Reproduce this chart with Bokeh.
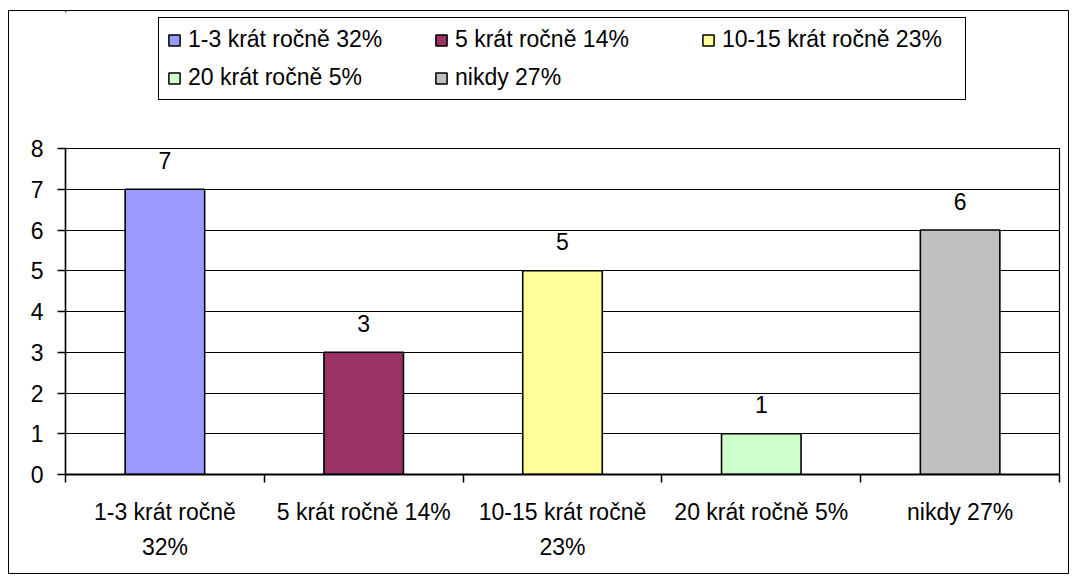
from bokeh.plotting import figure
from bokeh.layouts import column
from bokeh.models import ColumnDataSource, FixedTicker, Legend, LegendItem, Range1d
from bokeh.core.properties import value
from bokeh.embed import file_html
from bokeh.resources import INLINE

categories = ["1-3 krát ročně 32%", "5 krát ročně 14%", "10-15 krát ročně 23%",
              "20 krát ročně 5%", "nikdy 27%"]
tick_labels = ["1-3 krát ročně\n32%", "5 krát ročně 14%", "10-15 krát ročně\n23%",
               "20 krát ročně 5%", "nikdy 27%"]
counts = [7, 3, 5, 1, 6]
colors = ["#9999FF", "#993366", "#FFFF99", "#CCFFCC", "#C0C0C0"]
y_ticks = [0, 1, 2, 3, 4, 5, 6, 7, 8]

FONT = "Liberation Sans"
FS = "23px"

centers = [i + 0.5 for i in range(len(categories))]
src = ColumnDataSource(dict(x=centers, top=counts, color=colors, name=categories,
                            label=[str(c) for c in counts]))

# ---- main chart ----
p = figure(width=1059, height=445, output_backend="svg", toolbar_location=None,
           x_range=Range1d(0, len(categories)), y_range=Range1d(0, 8),
           min_border_left=56, min_border_right=9, min_border_top=20, min_border_bottom=99)
p.outline_line_color = "black"
p.outline_line_width = 1.2
p.background_fill_color = "white"
p.border_fill_color = "white"

r = p.vbar(x="x", top="top", width=0.4, bottom=0, source=src, fill_color="color",
           line_color="black", line_width=1.6)

p.text(x="x", y="top", text="label", source=src, text_align="center",
       text_baseline="alphabetic", y_offset=-29, text_font=value(FONT),
       text_font_size=FS, text_color="black")

p.xaxis.ticker = FixedTicker(ticks=centers, minor_ticks=list(range(len(categories) + 1)))
p.xaxis.major_label_overrides = {c: t for c, t in zip(centers, tick_labels)}
p.xaxis.major_tick_in = 0
p.xaxis.major_tick_out = 0
p.xaxis.minor_tick_in = 0
p.xaxis.minor_tick_out = 8
p.xaxis.minor_tick_line_color = "black"
p.xaxis.minor_tick_line_width = 1.5
p.xaxis.axis_line_color = "black"
p.xaxis.axis_line_width = 2
p.xaxis.major_label_standoff = 16
p.xaxis.major_label_text_font = FONT
p.xaxis.major_label_text_font_size = FS
p.xaxis.major_label_text_color = "black"
p.xaxis.major_label_text_line_height = 1.38

p.yaxis.ticker = FixedTicker(ticks=y_ticks, minor_ticks=[])
p.yaxis.major_tick_in = 0
p.yaxis.major_tick_out = 8
p.yaxis.major_tick_line_color = "black"
p.yaxis.major_tick_line_width = 1.5
p.yaxis.axis_line_color = "black"
p.yaxis.axis_line_width = 1.5
p.yaxis.major_label_standoff = 14
p.yaxis.major_label_text_font = FONT
p.yaxis.major_label_text_font_size = FS
p.yaxis.major_label_text_color = "black"

p.xgrid.visible = False
p.ygrid.grid_line_color = "black"
p.ygrid.grid_line_width = 1.2

# ---- legend strip (same data, bars kept out of view) ----
lg = figure(width=1059, height=117, output_backend="svg", toolbar_location=None,
            x_range=Range1d(20, 25), y_range=Range1d(-10, -9),
            x_axis_location=None, y_axis_location=None,
            min_border_left=0, min_border_right=0, min_border_top=0, min_border_bottom=0)
lg.outline_line_color = None
lg.grid.visible = False
lg.background_fill_color = "white"
lg.border_fill_color = "white"
lr = lg.vbar(x="x", top="top", width=0.4, bottom=0, source=src, fill_color="color",
             line_color="black", line_width=1.5)

items = [LegendItem(label=c, renderers=[lr], index=i) for i, c in enumerate(categories)]
legend = Legend(items=items, location=(93, 28), orientation="horizontal", nrows=2,
                border_line_color="black", border_line_width=1.5, border_line_alpha=1,
                background_fill_color="white", background_fill_alpha=1,
                label_text_font=FONT, label_text_font_size=FS, label_text_color="black",
                glyph_width=14, glyph_height=14, label_standoff=7,
                label_height=26, label_width=235, spacing=11, padding=8, margin=0)
lg.add_layout(legend, "center")

layout = column(lg, p, spacing=0, margin=(10, 0, 0, 8),
                styles={"border": "1px solid black"})

open("out.html", "w").write(file_html(layout, INLINE))
